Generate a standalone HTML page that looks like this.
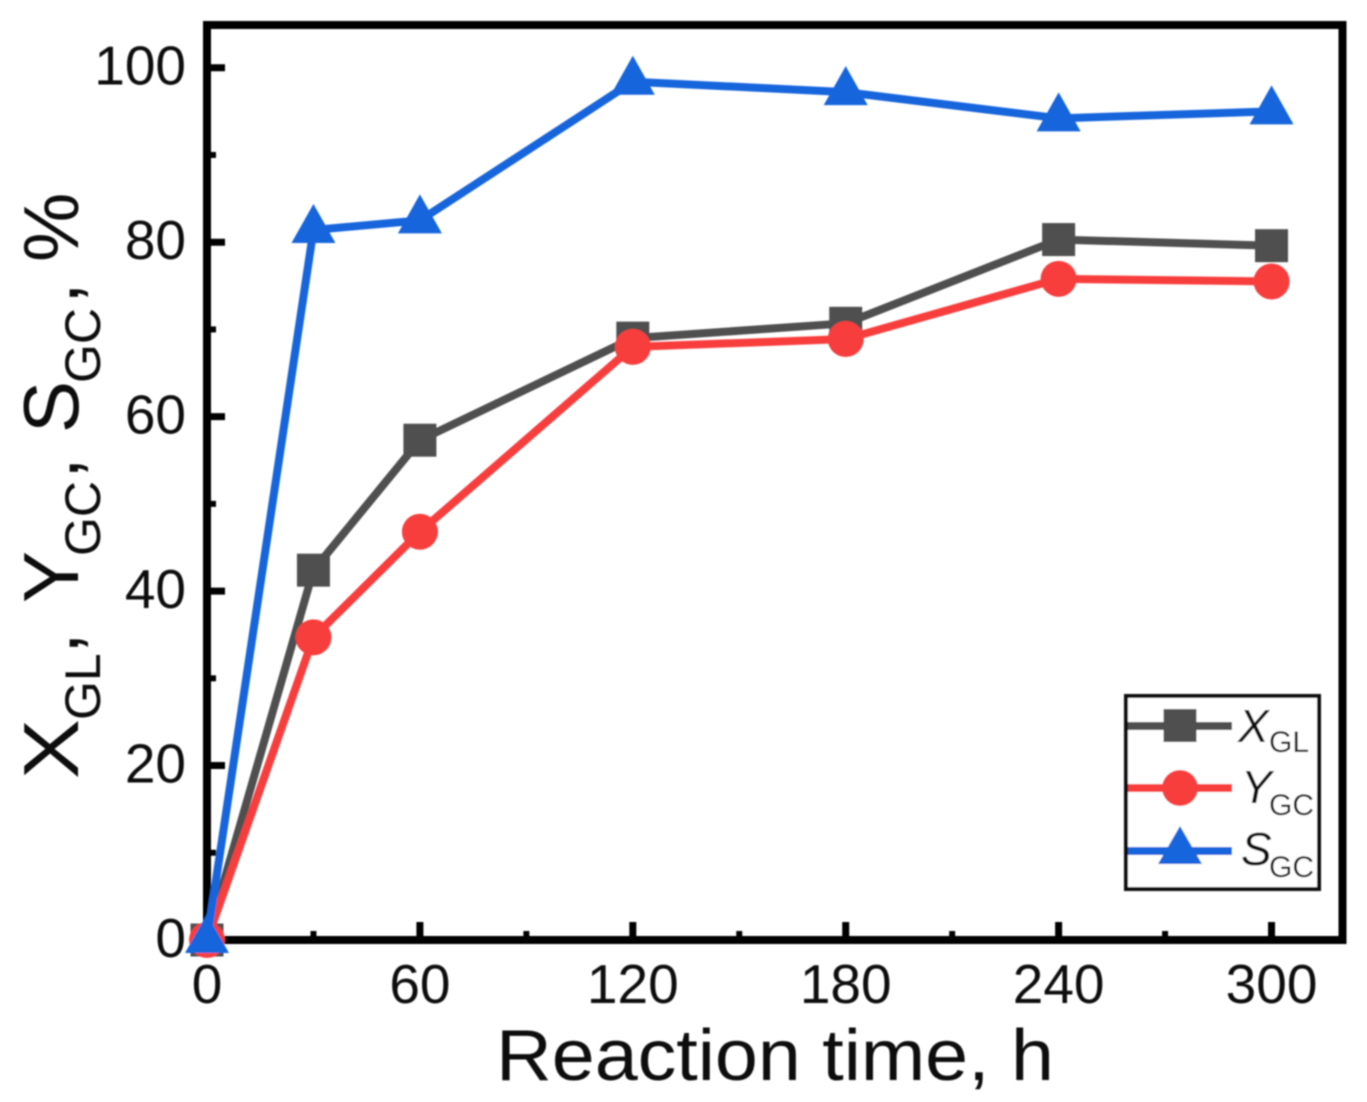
<!DOCTYPE html>
<html lang="en">
<head>
<meta charset="utf-8">
<title>Reaction time chart</title>
<style>
html,body{margin:0;padding:0;background:#fff;}
svg{display:block;font-family:"Liberation Sans",Arial,sans-serif;}
text{fill:#0a0a0a;}
</style>
</head>
<body>
<svg id="chart" xmlns="http://www.w3.org/2000/svg" width="1367" height="1102" viewBox="0 0 1367 1102">
<defs><filter id="soft" x="0" y="0" width="100%" height="100%" filterUnits="userSpaceOnUse" primitiveUnits="userSpaceOnUse"><feGaussianBlur stdDeviation="0.75"/></filter></defs>
<rect width="1367" height="1102" fill="#fff"/>
<g id="root" filter="url(#soft)">
  <g id="ticks"></g>
  <g id="series"></g>
  <rect id="frame" fill="none" stroke="#000" stroke-width="8"/>
  <g id="markers"></g>
  <g id="labels"></g>

  <g>
    <text font-size="78" transform="translate(78,779) rotate(-90) scale(1.15,1)">X</text>
    <text font-size="50" transform="translate(100,720) rotate(-90)">GL</text>
    <text font-size="78" transform="translate(78,654) rotate(-90)">,</text>
    <text font-size="78" transform="translate(78,603) rotate(-90)">Y</text>
    <text font-size="50" transform="translate(100,556) rotate(-90)">GC</text>
    <text font-size="78" transform="translate(78,479) rotate(-90)">,</text>
    <text font-size="78" transform="translate(78,433) rotate(-90)">S</text>
    <text font-size="50" transform="translate(100,383) rotate(-90)">GC</text>
    <text font-size="78" transform="translate(78,304) rotate(-90)">,</text>
    <text font-size="78" transform="translate(78,262) rotate(-90)">%</text>
  </g>
  <text x="496" y="1080" font-size="72" textLength="558" lengthAdjust="spacingAndGlyphs">Reaction time, h</text>

  <g>
    <rect x="1126" y="696" width="193" height="193" fill="#fff" stroke="#0a0a0a" stroke-width="4"/>
    <g>
      <line x1="1128" x2="1232" y1="726" y2="726" stroke="#505050" stroke-width="8"/>
      <rect x="1163.5" y="709" width="33" height="33" fill="#505050"/>
      <text x="1238" y="742" font-size="46" font-style="italic">X</text>
      <text x="1269" y="752" font-size="30">GL</text>
    </g>
    <g>
      <line x1="1128" x2="1232" y1="788" y2="788" stroke="#f83c3c" stroke-width="8"/>
      <circle cx="1180" cy="788" r="18" fill="#f83c3c"/>
      <text x="1241" y="803" font-size="46" font-style="italic">Y</text>
      <text x="1269" y="815" font-size="30">GC</text>
    </g>
    <g>
      <line x1="1128" x2="1232" y1="851" y2="851" stroke="#1565dc" stroke-width="8"/>
      <polygon points="1180,826 1202,864 1158,864" fill="#1565dc"/>
      <text x="1241" y="865" font-size="46" font-style="italic">S</text>
      <text x="1269" y="877" font-size="30">GC</text>
    </g>
  </g>
</g>
</svg>
<script>
const times = [0, 30, 60, 120, 180, 240, 300];
const xglValues = [0, 42.4, 57.3, 69, 70.7, 80.3, 79.6];
const ygcValues = [0, 34.7, 46.8, 68, 68.9, 75.8, 75.5];
const sgcValues = [0, 81.4, 82.5, 98.4, 97.2, 94.2, 95];
const xMajorTicks = [0, 60, 120, 180, 240, 300];
const xMinorTicks = [30, 90, 150, 210, 270];
const yMajorTicks = [0, 20, 40, 60, 80, 100];
const yMinorTicks = [10, 30, 50, 70, 90];
const xDomain = [0, 320];
const yDomain = [0, 104.9];

const NS = 'http://www.w3.org/2000/svg';
const plotLeft = 207, plotRight = 1342.5, plotBottom = 940, plotTop = 25;
function xScale(v) { return plotLeft + (v - xDomain[0]) / (xDomain[1] - xDomain[0]) * (plotRight - plotLeft); }
function yScale(v) { return plotBottom - (v - yDomain[0]) / (yDomain[1] - yDomain[0]) * (plotBottom - plotTop); }

const frame = document.getElementById('frame');
frame.setAttribute('x', plotLeft);
frame.setAttribute('y', plotTop);
frame.setAttribute('width', plotRight - plotLeft);
frame.setAttribute('height', plotBottom - plotTop);

const ticksG = document.getElementById('ticks');
const labelsG = document.getElementById('labels');
const seriesG = document.getElementById('series');

function addTick(x1, y1, x2, y2, width) {
  const l = document.createElementNS(NS, 'line');
  
  
  l.setAttribute('x1', x1);
  l.setAttribute('y1', y1);
  l.setAttribute('x2', x2);
  l.setAttribute('y2', y2);
  l.setAttribute('stroke', '#000');
  l.setAttribute('stroke-width', width);
  ticksG.appendChild(l);
}
function addLabel(txt, x, y, anchor) {
  const t = document.createElementNS(NS, 'text');
  
  
  t.setAttribute('x', x);
  t.setAttribute('y', y);
  t.setAttribute('font-size', '55');
  t.setAttribute('text-anchor', anchor);
  t.textContent = txt;
  labelsG.appendChild(t);
}
xMajorTicks.forEach(function (v) {
  addTick(xScale(v), plotBottom, xScale(v), plotBottom - 18, 7);
  addLabel(String(v), xScale(v), 1003, 'middle');
});
xMinorTicks.forEach(function (v) {
  addTick(xScale(v), plotBottom, xScale(v), plotBottom - 9, 6);
});
yMajorTicks.forEach(function (v) {
  addTick(plotLeft, yScale(v), plotLeft + 18, yScale(v), 7);
  addLabel(String(v), 186, yScale(v) + 17, 'end');
});
yMinorTicks.forEach(function (v) {
  addTick(plotLeft, yScale(v), plotLeft + 9, yScale(v), 6);
});

function drawSeries(values, color, kind, name) {
  const line = document.createElementNS(NS, 'polyline');
  
  
  line.setAttribute('fill', 'none');
  line.setAttribute('stroke', color);
  line.setAttribute('stroke-width', '8');
  line.setAttribute('stroke-linejoin', 'round');
  line.setAttribute('points', values.map(function (v, i) { return xScale(times[i]) + ',' + yScale(v); }).join(' '));
  seriesG.appendChild(line);
  values.forEach(function (v, i) {
    const cx = xScale(times[i]), cy = yScale(v);
    let m;
    if (kind === 'square') {
      m = document.createElementNS(NS, 'rect');
      m.setAttribute('x', cx - 16.5);
      m.setAttribute('y', cy - 16.5);
      m.setAttribute('width', 33);
      m.setAttribute('height', 33);
    } else if (kind === 'circle') {
      m = document.createElementNS(NS, 'circle');
      m.setAttribute('cx', cx);
      m.setAttribute('cy', cy);
      m.setAttribute('r', 18);
    } else {
      m = document.createElementNS(NS, 'polygon');
      m.setAttribute('points', cx + ',' + (cy - 26) + ' ' + (cx + 22) + ',' + (cy + 13) + ' ' + (cx - 22) + ',' + (cy + 13));
    }
    
    
    m.setAttribute('fill', color);
    seriesG.appendChild(m);
  });
}
drawSeries(xglValues, '#505050', 'square', 'xgl');
drawSeries(ygcValues, '#f83c3c', 'circle', 'ygc');
drawSeries(sgcValues, '#1565dc', 'triangle', 'sgc');
document.getElementById('root').insertBefore(frame, seriesG);
document.getElementById('root').insertBefore(ticksG, frame);
</script>
</body>
</html>
